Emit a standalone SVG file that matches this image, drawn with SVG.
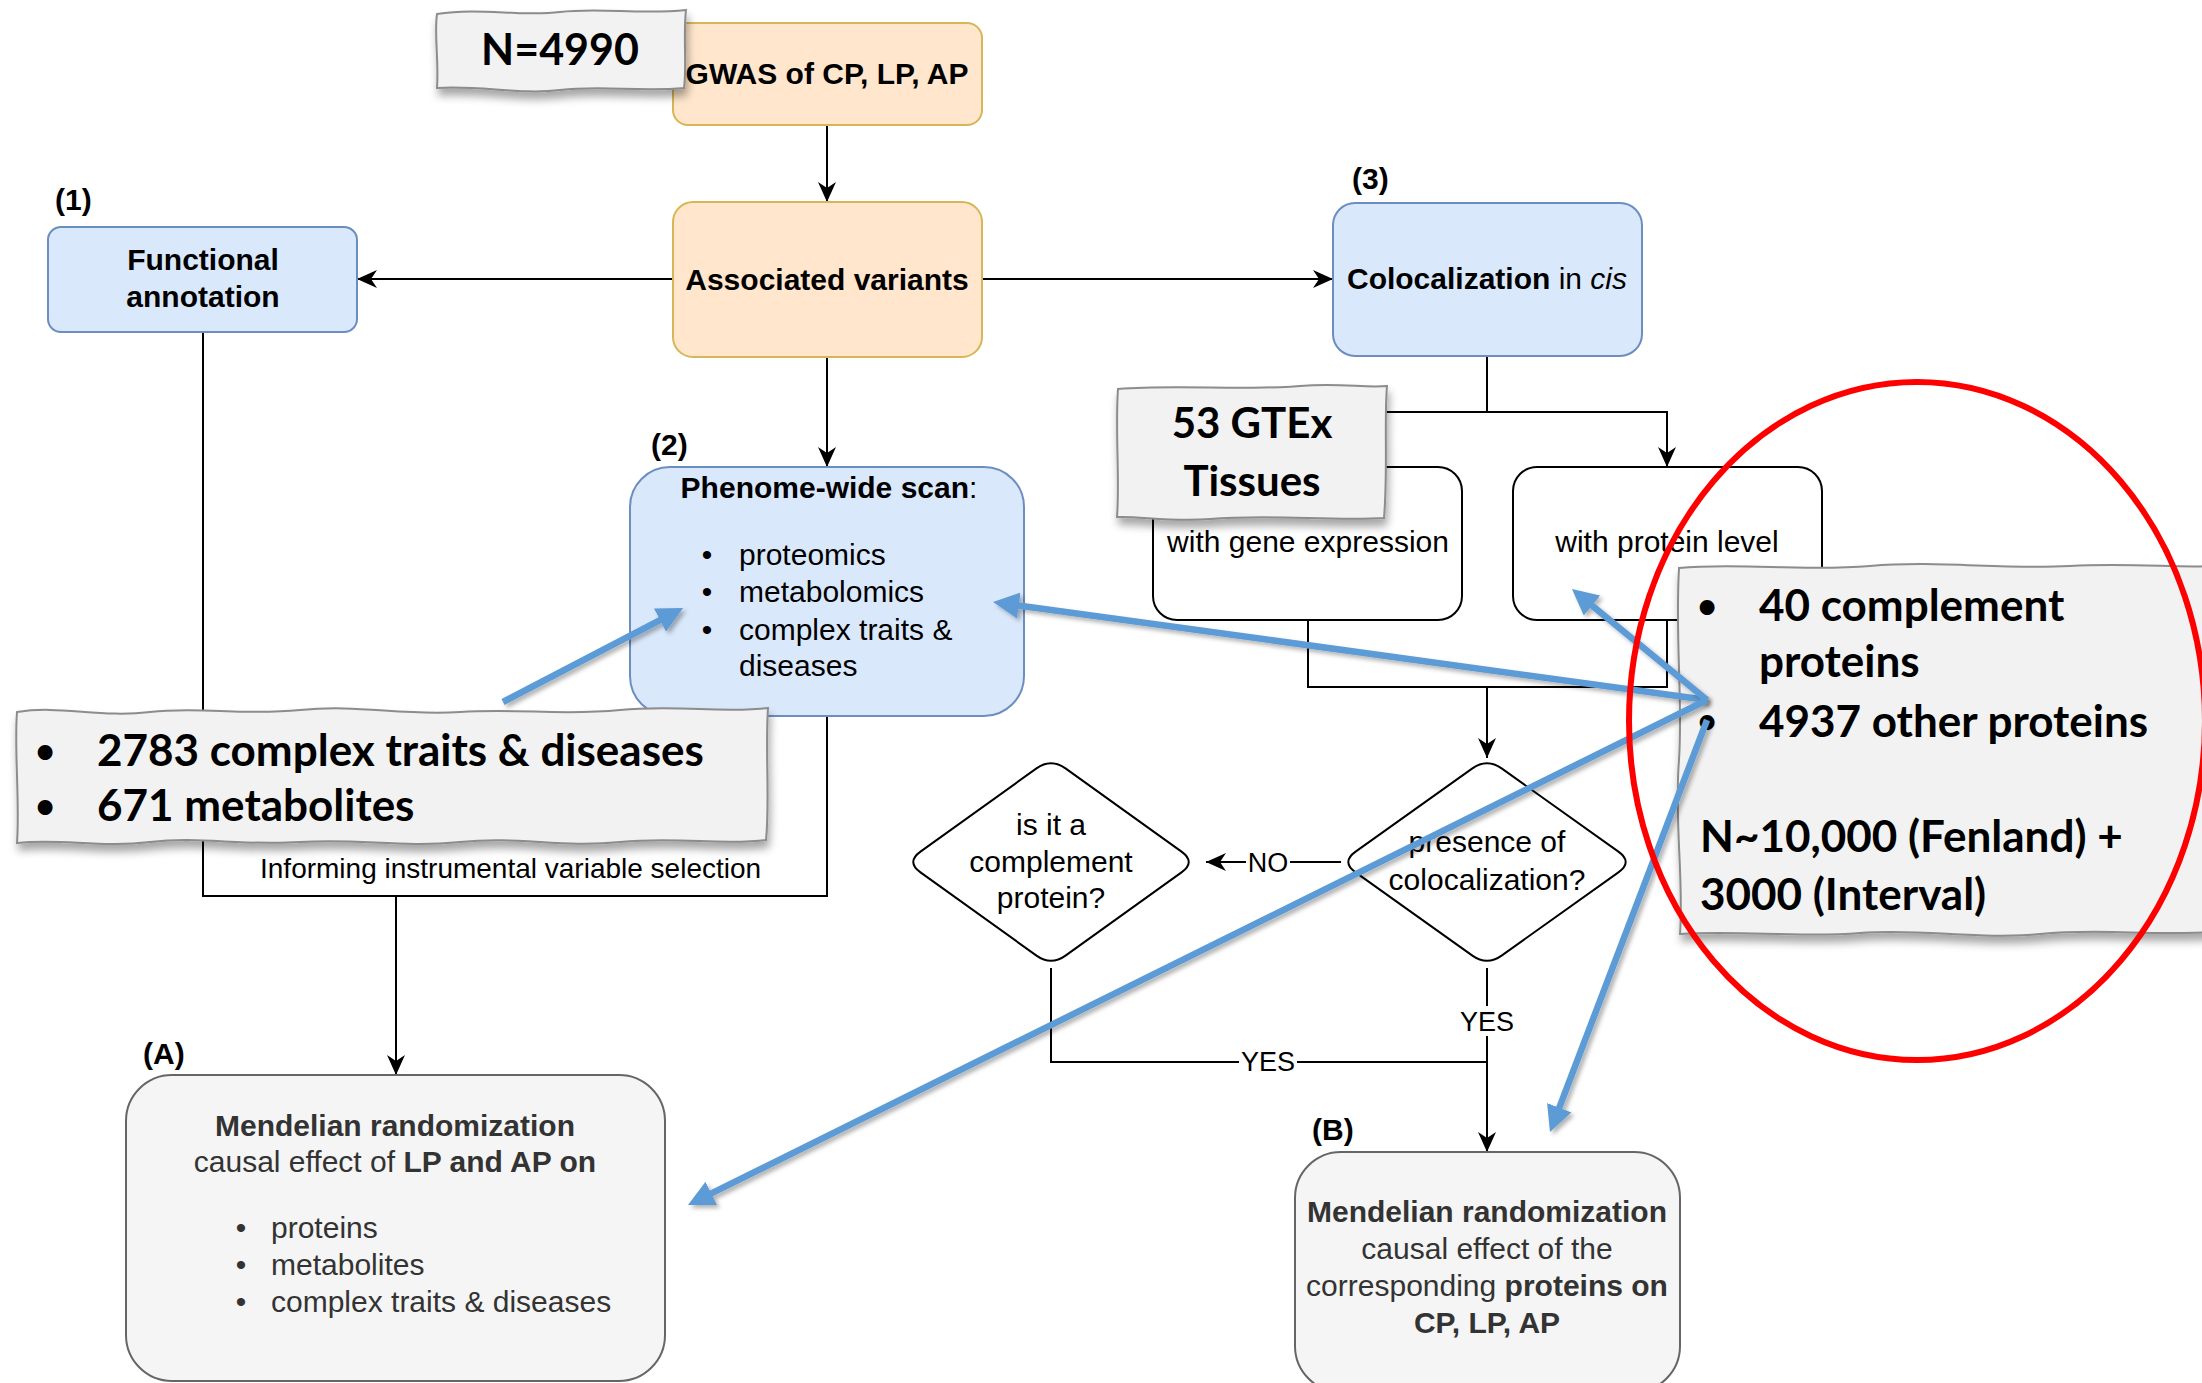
<svg xmlns="http://www.w3.org/2000/svg" width="2202" height="1383" viewBox="0 0 2202 1383">
  <style>
    .box-blue { fill: #dae8fc; stroke: #6c8ebf; stroke-width: 2; }
    .box-orange { fill: #ffe6cc; stroke: #d6b656; stroke-width: 2; }
    .box-plain { fill: #ffffff; stroke: #000000; stroke-width: 2; }
    .box-grey { fill: #f5f5f5; stroke: #666666; stroke-width: 2; }
    .edge { fill: none; stroke: #000000; stroke-width: 2; }
    .edge-arrow { fill: none; stroke: #000000; stroke-width: 2; marker-end: url(#arrow); }
    .t { font-family: "Liberation Sans", Arial, sans-serif; font-size: 30px; fill: #000000; }
    .grey-t { fill: #333333; }
    .b { font-weight: bold; }
    .small { font-size: 28px; }
    .lab { font-size: 27px; }
    .step { font-family: "Liberation Sans", Arial, sans-serif; font-size: 30px; font-weight: bold; fill: #000000; }
    .note { fill: #f2f2f2; stroke: #8c8c8c; stroke-width: 2; filter: url(#noteShadow); }
    .nt { font-family: Lato, "Open Sans", sans-serif; font-weight: bold; fill: #000000; }
    .dot { font-size: 34px; }
    .blue { fill: none; stroke: #5b9bd5; stroke-width: 6.5; marker-end: url(#blueArrow); filter: url(#blueShadow); }
    .mid { text-anchor: middle; }
  </style>
  <defs>
    <marker id="arrow" viewBox="0 0 20 20" refX="20" refY="10" markerWidth="20" markerHeight="20" markerUnits="userSpaceOnUse" orient="auto">
      <path d="M0,1 L20,10 L0,19 L6,10 Z" fill="#000000"/>
    </marker>
    <marker id="blueArrow" viewBox="0 0 26 26" refX="6" refY="13" markerWidth="26" markerHeight="26" markerUnits="userSpaceOnUse" orient="auto">
      <path d="M0,0 L26,13 L0,26 Z" fill="#5b9bd5"/>
    </marker>
    <filter id="noteShadow" x="-10%" y="-20%" width="120%" height="150%">
      <feDropShadow dx="2" dy="7" stdDeviation="4" flood-color="#000000" flood-opacity="0.35"/>
    </filter>
    <filter id="blueShadow" x="-20%" y="-20%" width="140%" height="140%">
      <feDropShadow dx="3" dy="3" stdDeviation="2" flood-color="#000000" flood-opacity="0.3"/>
    </filter>
  </defs>

  <rect width="2202" height="1383" fill="#ffffff"/>

  <!-- flow connectors -->
  <g id="connectors">
    <path class="edge-arrow" d="M827,125 V202"/>
    <path class="edge-arrow" d="M673,279 H357"/>
    <path class="edge-arrow" d="M982,279 H1333"/>
    <path class="edge-arrow" d="M827,357 V467"/>
    <path class="edge" d="M203,332 V896 H827 V716"/>
    <path class="edge-arrow" d="M396,896 V1075"/>
    <text class="t small" x="260" y="878">Informing instrumental variable selection</text>

    <path class="edge" d="M1487,356 V412"/>
    <path class="edge-arrow" d="M1487,412 H1308 V467"/>
    <path class="edge-arrow" d="M1487,412 H1667 V467"/>
    <path class="edge" d="M1308,620 V687 H1667 V620"/>
    <path class="edge-arrow" d="M1487,687 V758"/>

    <path class="edge-arrow" d="M1341,862 H1206"/>
    <rect x="1246" y="848" width="44" height="28" fill="#ffffff"/>
    <text class="t lab mid" x="1268" y="872">NO</text>

    <path class="edge-arrow" d="M1487,968 V1152"/>
    <rect x="1458" y="1006" width="58" height="30" fill="#ffffff"/>
    <text class="t lab mid" x="1487" y="1031">YES</text>

    <path class="edge" d="M1051,968 V1062 H1487"/>
    <rect x="1239" y="1048" width="58" height="28" fill="#ffffff"/>
    <text class="t lab mid" x="1268" y="1071">YES</text>
  </g>

  <!-- GWAS -->
  <g id="gwas">
    <rect class="box-orange" x="673" y="23" width="309" height="102" rx="15"/>
    <text class="t b mid" x="827" y="84">GWAS of CP, LP, AP</text>
  </g>

  <!-- associated variants -->
  <g id="associated">
    <rect class="box-orange" x="673" y="202" width="309" height="155" rx="20"/>
    <text class="t b mid" x="827" y="290">Associated variants</text>
  </g>

  <!-- (1) functional annotation -->
  <g id="functional">
    <text class="step" x="55" y="210">(1)</text>
    <rect class="box-blue" x="48" y="227" width="309" height="105" rx="13"/>
    <text class="t b mid" x="203" y="270">Functional</text>
    <text class="t b mid" x="203" y="307">annotation</text>
  </g>

  <!-- (2) phenome-wide scan -->
  <g id="phenome">
    <text class="step" x="651" y="455">(2)</text>
    <rect class="box-blue" x="630" y="467" width="394" height="249" rx="40"/>
    <text class="t mid" x="829" y="498"><tspan class="b">Phenome-wide scan</tspan>:</text>
    <text class="t mid" x="707" y="565">•</text>
    <text class="t" x="739" y="565">proteomics</text>
    <text class="t mid" x="707" y="602">•</text>
    <text class="t" x="739" y="602">metabolomics</text>
    <text class="t mid" x="707" y="640">•</text>
    <text class="t" x="739" y="640">complex traits &amp;</text>
    <text class="t" x="739" y="676">diseases</text>
  </g>

  <!-- (3) colocalization -->
  <g id="colocalization">
    <text class="step" x="1352" y="189">(3)</text>
    <rect class="box-blue" x="1333" y="203" width="309" height="153" rx="22"/>
    <text class="t mid" x="1487" y="289"><tspan class="b">Colocalization</tspan> in <tspan font-style="italic">cis</tspan></text>
  </g>

  <g id="gene-expression">
    <rect class="box-plain" x="1153" y="467" width="309" height="153" rx="24"/>
    <text class="t mid" x="1308" y="552">with gene expression</text>
  </g>

  <g id="protein-level">
    <rect class="box-plain" x="1513" y="467" width="309" height="153" rx="24"/>
    <text class="t mid" x="1667" y="552">with protein level</text>
  </g>

  <!-- decisions -->
  <g id="presence">
    <path class="box-plain" d="M1472.4,768.4 Q1487,758 1501.6,768.4 L1618.4,851.6 Q1633,862 1618.4,872.4 L1501.6,955.6 Q1487,966 1472.4,955.6 L1355.6,872.4 Q1341,862 1355.6,851.6 Z"/>
    <text class="t mid" x="1487" y="852" font-size="29">presence of</text>
    <text class="t mid" x="1487" y="890" font-size="29">colocalization?</text>
  </g>

  <g id="complement">
    <path class="box-plain" d="M1036.5,768.4 Q1051,758 1065.5,768.4 L1181.5,851.6 Q1196,862 1181.5,872.4 L1065.5,955.6 Q1051,966 1036.5,955.6 L920.5,872.4 Q906,862 920.5,851.6 Z"/>
    <text class="t mid" x="1051" y="835" font-size="29">is it a</text>
    <text class="t mid" x="1051" y="872" font-size="29">complement</text>
    <text class="t mid" x="1051" y="908" font-size="29">protein?</text>
  </g>

  <!-- (A) MR of LP/AP -->
  <g id="mr-a">
    <text class="step" x="143" y="1064">(A)</text>
    <rect class="box-grey" x="126" y="1075" width="539" height="306" rx="46"/>
    <text class="t grey-t mid b" x="395" y="1136">Mendelian randomization</text>
    <text class="t grey-t mid" x="395" y="1172">causal effect of <tspan class="b">LP and AP on</tspan></text>
    <text class="t grey-t mid" x="241" y="1238">•</text>
    <text class="t grey-t" x="271" y="1238">proteins</text>
    <text class="t grey-t mid" x="241" y="1275">•</text>
    <text class="t grey-t" x="271" y="1275">metabolites</text>
    <text class="t grey-t mid" x="241" y="1312">•</text>
    <text class="t grey-t" x="271" y="1312">complex traits &amp; diseases</text>
  </g>

  <!-- (B) MR of proteins -->
  <g id="mr-b">
    <text class="step" x="1312" y="1140">(B)</text>
    <rect class="box-grey" x="1295" y="1152" width="385" height="240" rx="46"/>
    <text class="t grey-t mid b" x="1487" y="1222">Mendelian randomization</text>
    <text class="t grey-t mid" x="1487" y="1259">causal effect of the</text>
    <text class="t grey-t mid" x="1487" y="1296">corresponding <tspan class="b">proteins on</tspan></text>
    <text class="t grey-t mid b" x="1487" y="1333">CP, LP, AP</text>
  </g>

  <!-- sticky notes -->
  <g id="note-n">
    <path class="note" d="M437,14 C480,7 520,17 560,12 C600,7 640,15 686,10 C683,35 687,65 684,88 C640,92 600,85 560,90 C520,95 480,85 437,88 C439,60 434,35 437,14 Z"/>
    <text class="nt mid" x="560" y="65" font-size="43">N=4990</text>
  </g>

  <g id="note-gtex">
    <path class="note" d="M1118,389 C1180,384 1240,391 1300,386 C1340,383 1365,388 1387,386 C1384,420 1388,470 1384,518 C1330,521 1270,514 1210,519 C1170,522 1140,516 1117,517 C1120,480 1115,430 1118,389 Z"/>
    <text class="nt mid" x="1252" y="438" font-size="42">53 GTEx</text>
    <text class="nt mid" x="1252" y="496" font-size="42">Tissues</text>
  </g>

  <g id="note-traits">
    <path class="note" d="M17,712 C60,705 100,718 150,712 C200,706 240,716 300,710 C360,704 400,716 460,712 C520,708 560,716 620,710 C680,704 720,714 768,708 C765,750 770,800 766,840 C720,846 680,836 620,842 C560,848 520,836 460,842 C400,848 360,838 300,842 C240,846 200,836 150,842 C100,848 60,838 17,843 C20,800 14,750 17,712 Z"/>
    <text class="nt dot mid" x="45" y="763">•</text>
    <text class="nt" x="97" y="766" font-size="44">2783 complex traits &amp; diseases</text>
    <text class="nt dot mid" x="45" y="818">•</text>
    <text class="nt" x="97" y="821" font-size="44">671 metabolites</text>
  </g>

  <g id="note-proteins">
    <path class="note" d="M1679,568 C1740,562 1800,572 1870,566 C1940,560 2000,570 2070,566 C2130,563 2180,568 2212,566 L2212,932 C2150,936 2100,928 2040,934 C1980,940 1920,928 1860,933 C1800,938 1740,930 1680,934 C1684,880 1674,820 1679,760 C1683,700 1675,640 1679,568 Z"/>
    <text class="nt dot mid" x="1707" y="618">•</text>
    <text class="nt" x="1759" y="621" font-size="44">40 complement</text>
    <text class="nt" x="1759" y="677" font-size="44">proteins</text>
    <text class="nt dot mid" x="1707" y="733">•</text>
    <text class="nt" x="1759" y="737" font-size="44">4937 other proteins</text>
    <text class="nt" x="1700" y="852" font-size="44">N~10,000 (Fenland) +</text>
    <text class="nt" x="1700" y="910" font-size="44">3000 (Interval)</text>
  </g>

  <!-- highlight arrows -->
  <g id="highlights">
    <path class="blue" d="M503,702 L665.3,617.3"/>
    <path class="blue" d="M460,809 L460,1010"/>
    <path class="blue" d="M1707,700 L1012.8,604.7"/>
    <path class="blue" d="M1707,700 L1587.4,601.7"/>
    <path class="blue" d="M1707,700 L705.9,1196.1"/>
    <path class="blue" d="M1707,720 L1557.1,1113.3"/>
    <ellipse cx="1917" cy="721" rx="288" ry="339" fill="none" stroke="#ff0000" stroke-width="6"/>
  </g>
</svg>
